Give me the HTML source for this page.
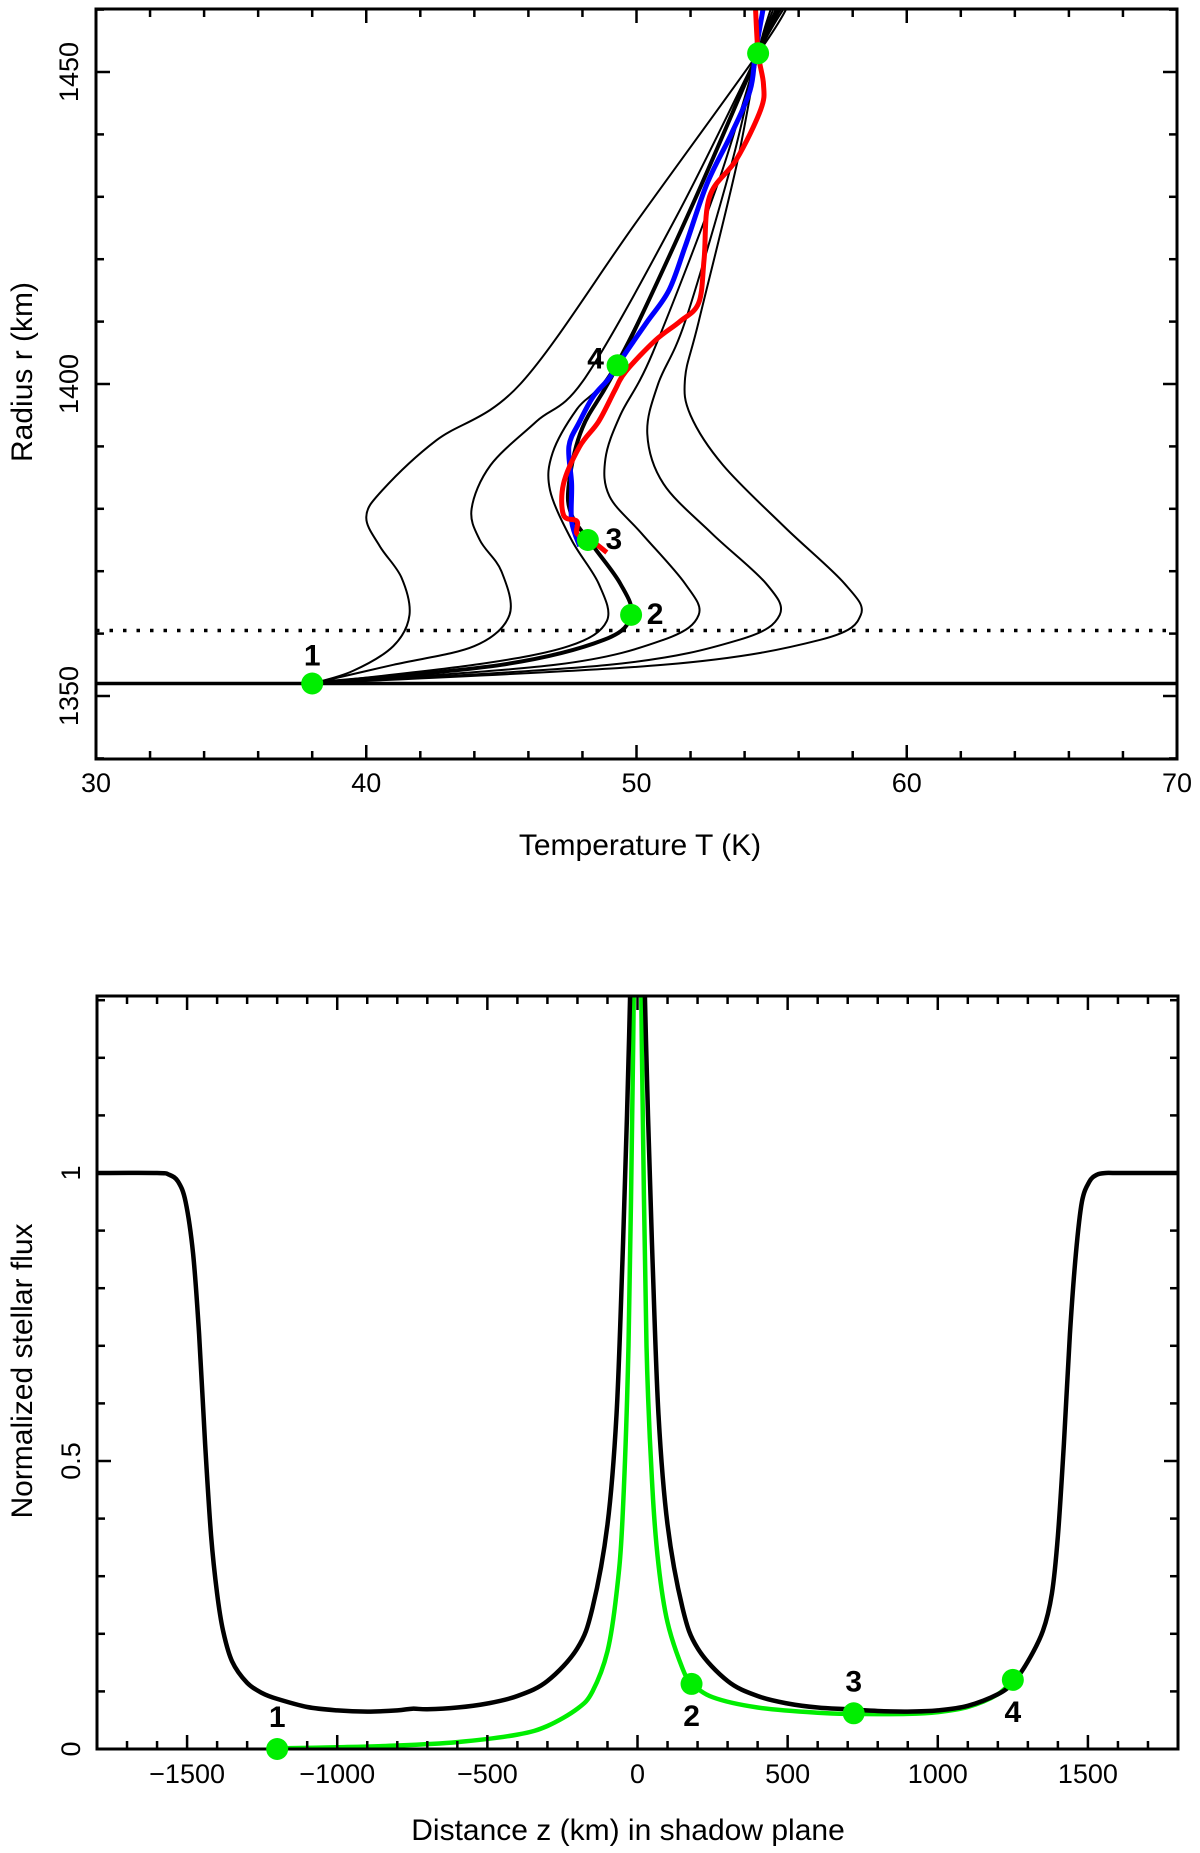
<!DOCTYPE html>
<html><head><meta charset="utf-8"><style>
html,body{margin:0;padding:0;background:#fff;}
svg{display:block;font-family:"Liberation Sans",sans-serif;}
.tk{font-size:27px;fill:#000;}
.tt{font-size:30px;fill:#000;}
.lb{font-size:30px;font-weight:bold;fill:#000;font-family:"Liberation Sans Narrow","Liberation Sans",sans-serif;}
</style></head><body>
<svg id="fig" width="1200" height="1853" viewBox="0 0 1200 1853" xmlns="http://www.w3.org/2000/svg">
<g id="topchart"></g>
<g id="botchart"></g>
</svg>
<script>
// ---- top chart data (T in K, r in km) ----
const modelT1=[38,39.5,41,41.6,41.3,40.5,40,40.6,42.6,45.7,50,54.5,55.6];
const modelR1=[1352,1354,1358,1363,1369,1374,1378.7,1383,1391,1400,1426,1453,1460.5];
const modelT2=[38,41,44,45.3,45,44.2,43.9,44.6,46.3,48.1,51.5,54.5,55.5];
const modelR2=[1352,1355,1358,1363,1370,1375,1380,1387,1394,1401,1427,1453,1460.5];
const modelT3=[38,44,47.5,48.9,48.6,47.6,46.8,46.9,47.8,49.2,52,54.5,55.4];
const modelR3=[1352,1355,1358,1362,1368,1375,1383,1389,1396,1403,1428,1453,1460.5];
const modelT4=[38,45,48.8,49.8,49.4,48.4,47.6,47.5,48,49.3,52,54.5,55.3];
const modelR4=[1352,1355,1359,1363,1368,1374,1379,1384,1393,1403,1428,1453,1460.5];
const modelT5=[38,47,51,52.3,51.8,50.2,49,48.85,49.4,50.6,53,54.5,55.2];
const modelR5=[1352,1355,1359,1363,1368,1376,1382,1388,1395,1405,1432,1453,1460.5];
const modelT6=[38,49,53.8,55.3,54.8,52.8,51,50.4,50.8,51.8,53.5,54.5,55.1];
const modelR6=[1352,1355,1359,1363,1368,1376,1384,1392,1400,1410,1435,1453,1460.5];
const modelT7=[38,51,56.8,58.3,57.7,55.5,53.2,52,51.8,52.3,53.7,54.5,55];
const modelR7=[1352,1355,1359,1363,1368,1377,1387,1395,1401,1410,1435,1453,1460.5];
const blueT=[54.7,54.4,54.2,53.5,52.6,51.8,51.2,50.4,49.6,49,48.4,47.9,47.5,47.6,47.6,47.9];
const blueR=[1460.5,1453,1447,1440,1432,1422,1415,1410,1405,1401,1398,1394,1390,1384,1378,1374];
const redT=[54.4,54.5,54.7,54.6,53.7,52.7,52.5,52.3,51.6,50.7,49.6,49.2,48.6,47.9,47.3,47.3,47.8,47.8,48.3,48.9];
const redR=[1460.5,1453,1448,1444,1436,1430,1420,1413,1410,1407,1402,1399,1394,1390,1384,1379,1378,1376,1375,1373];
const dotT=[38,49.8,48.2,49.3,54.5];
const dotR=[1352,1363,1375,1403,1453];
const dotLbl=["1","2","3","4",""];
const xTicksTop=[30,40,50,60,70];
const yTicksTop=[1350,1400,1450];
// ---- bottom chart data ----
const fluxZ=[-1800,-1600,-1560,-1530,-1505,-1480,-1460,-1440,-1420,-1400,-1380,-1350,-1300,-1250,-1200,-1100,-1000,-900,-800,-750,-700,-600,-500,-400,-300,-200,-150,-100,-70,-50,-35,-25,-18,18,25,35,50,70,100,150,200,300,400,500,600,700,800,900,1000,1100,1200,1250,1300,1350,1380,1400,1420,1440,1460,1480,1505,1530,1560,1600,1800];
const fluxV=[1,1,0.997,0.985,0.95,0.86,0.72,0.53,0.37,0.27,0.205,0.152,0.115,0.097,0.087,0.073,0.067,0.065,0.067,0.07,0.069,0.072,0.079,0.092,0.118,0.175,0.245,0.39,0.58,0.85,1.1,1.3,1.5,1.5,1.3,1.1,0.85,0.58,0.39,0.245,0.175,0.118,0.092,0.079,0.072,0.069,0.066,0.065,0.067,0.075,0.095,0.115,0.152,0.205,0.27,0.37,0.53,0.72,0.86,0.95,0.985,0.997,1,1,1];
const greenZ=[-1200,-1000,-800,-600,-400,-300,-200,-150,-100,-70,-50,-30,-15,-8,8,15,30,50,70,100,150,180,250,400,600,720,900,1000,1100,1200,1250];
const greenV=[0.001,0.003,0.006,0.012,0.025,0.04,0.07,0.1,0.17,0.27,0.4,0.7,1.2,1.5,1.5,1.2,0.7,0.45,0.32,0.22,0.14,0.115,0.09,0.072,0.063,0.061,0.061,0.064,0.073,0.095,0.12];
const gdotZ=[-1200,180,720,1250];
const gdotV=[0,0.113,0.062,0.12];
const gdotLbl=["1","2","3","4"];
const xTicksBot=[-1500,-1000,-500,0,500,1000,1500];
const yTicksBot=[0,0.5,1];

const NS="http://www.w3.org/2000/svg";
function mk(parent,tag,attrs){const e=document.createElementNS(NS,tag);for(const k in attrs)e.setAttribute(k,attrs[k]);parent.appendChild(e);return e;}
function smooth(pts){let d="M"+pts[0][0].toFixed(1)+","+pts[0][1].toFixed(1);
 for(let i=0;i<pts.length-1;i++){const p0=pts[Math.max(0,i-1)],p1=pts[i],p2=pts[i+1],p3=pts[Math.min(pts.length-1,i+2)];
  const c1=[p1[0]+(p2[0]-p0[0])/6,p1[1]+(p2[1]-p0[1])/6],c2=[p2[0]-(p3[0]-p1[0])/6,p2[1]-(p3[1]-p1[1])/6];
  d+="C"+c1[0].toFixed(1)+","+c1[1].toFixed(1)+" "+c2[0].toFixed(1)+","+c2[1].toFixed(1)+" "+p2[0].toFixed(1)+","+p2[1].toFixed(1);}
 return d;}

// ---- TOP ----
const topG=document.getElementById('topchart');
const L=96,R=1177,T0=9,B0=759;
const tx=t=>L+(t-30)*(R-L)/40;
const ry=r=>696-(r-1350)*6.24;
mk(topG,'defs',{}).innerHTML='<clipPath id="c1"><rect x="'+L+'" y="'+T0+'" width="'+(R-L)+'" height="'+(B0-T0)+'"/></clipPath>';
const tg=mk(topG,'g',{'clip-path':'url(#c1)'});
let e=mk(tg,'line',{x1:L,x2:R,y1:ry(1352),y2:ry(1352),stroke:'#000','stroke-width':3.5});


e=mk(tg,'line',{x1:L,x2:R,y1:ry(1360.5),y2:ry(1360.5),stroke:'#000','stroke-width':3.5,'stroke-dasharray':'3.5 10'});


const models=[[modelT1,modelR1],[modelT2,modelR2],[modelT3,modelR3],[modelT4,modelR4],[modelT5,modelR5],[modelT6,modelR6],[modelT7,modelR7]];
models.forEach((m,i)=>{const p=m[0].map((t,j)=>[tx(t),ry(m[1][j])]);
 e=mk(tg,'path',{d:smooth(p),fill:'none',stroke:'#000','stroke-width':i===3?4:2});
 
 });
e=mk(tg,'path',{d:smooth(blueT.map((t,j)=>[tx(t),ry(blueR[j])])),fill:'none',stroke:'#0000ff','stroke-width':5,'stroke-linejoin':'round'});


e=mk(tg,'path',{d:smooth(redT.map((t,j)=>[tx(t),ry(redR[j])])),fill:'none',stroke:'#ff0000','stroke-width':5,'stroke-linejoin':'round'});


const lblOff=[[0,-18],[24,9],[26,9],[-22,3],[0,0]];
dotT.forEach((t,i)=>{e=mk(topG,'ellipse',{cx:tx(t),cy:ry(dotR[i]),rx:11,ry:11,fill:'#00ee00'});
 
 
 if(dotLbl[i]){e=mk(topG,'text',{x:tx(t)+lblOff[i][0],y:ry(dotR[i])+lblOff[i][1],class:'lb','text-anchor':'middle'});e.textContent=dotLbl[i];
 
 }});
e=mk(topG,'rect',{x:L,y:T0,width:R-L,height:B0-T0,fill:'none',stroke:'#000','stroke-width':3});


for(let t=30;t<=70;t+=2){const maj=t%10===0,len=maj?14:8;
 mk(topG,'line',{x1:tx(t),x2:tx(t),y1:B0,y2:B0-len,stroke:'#000','stroke-width':2.5});
 mk(topG,'line',{x1:tx(t),x2:tx(t),y1:T0,y2:T0+len,stroke:'#000','stroke-width':2.5});}
for(let r=1340;r<=1460;r+=10){const maj=r%50===0,len=maj?14:8;
 mk(topG,'line',{x1:L,x2:L+len,y1:ry(r),y2:ry(r),stroke:'#000','stroke-width':2.5});
 mk(topG,'line',{x1:R,x2:R-len,y1:ry(r),y2:ry(r),stroke:'#000','stroke-width':2.5});}
xTicksTop.forEach(t=>{e=mk(topG,'text',{x:tx(t),y:792,class:'tk','text-anchor':'middle'});e.textContent=t;
 
 });
yTicksTop.forEach(r=>{e=mk(topG,'text',{x:0,y:0,class:'tk','text-anchor':'middle',transform:'translate(78,'+ry(r)+') rotate(-90)'});e.textContent=r;
 
 });
e=mk(topG,'text',{x:640,y:855,class:'tt','text-anchor':'middle'});e.textContent='Temperature T (K)';


e=mk(topG,'text',{x:0,y:0,class:'tt','text-anchor':'middle',transform:'translate(32,372) rotate(-90)'});e.textContent='Radius r (km)';



// ---- BOTTOM ----
const botG=document.getElementById('botchart');
const L2=97,R2=1178,T2=996,B2=1749;
const zx=z=>L2+(z+1800)*(R2-L2)/3600;
const fy=f=>B2-f*576;
mk(botG,'defs',{}).innerHTML='<clipPath id="c2"><rect x="'+L2+'" y="'+T2+'" width="'+(R2-L2)+'" height="'+(B2-T2)+'"/></clipPath>';
const bg=mk(botG,'g',{'clip-path':'url(#c2)'});
e=mk(bg,'path',{d:smooth(greenZ.map((z,j)=>[zx(z),fy(greenV[j])])),fill:'none',stroke:'#00ee00','stroke-width':4.5});


e=mk(bg,'path',{d:smooth(fluxZ.map((z,j)=>[zx(z),fy(fluxV[j])])),fill:'none',stroke:'#000','stroke-width':4.5});


e=mk(botG,'rect',{x:L2,y:T2,width:R2-L2,height:B2-T2,fill:'none',stroke:'#000','stroke-width':3});


for(let z=-1800;z<=1800;z+=100){const maj=z%500===0,len=maj?14:8;
 mk(botG,'line',{x1:zx(z),x2:zx(z),y1:B2,y2:B2-len,stroke:'#000','stroke-width':2.5});
 mk(botG,'line',{x1:zx(z),x2:zx(z),y1:T2,y2:T2+len,stroke:'#000','stroke-width':2.5});}
for(let k=0;k<=13;k++){const f=k/10,maj=k%5===0,len=maj?14:8;
 mk(botG,'line',{x1:L2,x2:L2+len,y1:fy(f),y2:fy(f),stroke:'#000','stroke-width':2.5});
 mk(botG,'line',{x1:R2,x2:R2-len,y1:fy(f),y2:fy(f),stroke:'#000','stroke-width':2.5});}
const glOff=[[0,-22],[0,42],[0,-22],[0,42]];
gdotZ.forEach((z,i)=>{e=mk(botG,'ellipse',{cx:zx(z),cy:fy(gdotV[i]),rx:11,ry:11,fill:'#00ee00'});
 
 
 e=mk(botG,'text',{x:zx(z)+glOff[i][0],y:fy(gdotV[i])+glOff[i][1],class:'lb','text-anchor':'middle'});e.textContent=gdotLbl[i];
 
 });
xTicksBot.forEach(z=>{e=mk(botG,'text',{x:zx(z),y:1783,class:'tk','text-anchor':'middle'});e.textContent=(z<0?'\u2212'+(-z):z);
 
 });
yTicksBot.forEach(f=>{e=mk(botG,'text',{x:0,y:0,class:'tk','text-anchor':'middle',transform:'translate(80,'+fy(f)+') rotate(-90)'});e.textContent=f;
 
 });
e=mk(botG,'text',{x:628,y:1840,class:'tt','text-anchor':'middle'});e.textContent='Distance z (km) in shadow plane';


e=mk(botG,'text',{x:0,y:0,class:'tt','text-anchor':'middle',transform:'translate(32,1371) rotate(-90)'});e.textContent='Normalized stellar flux';


</script>
</body></html>
